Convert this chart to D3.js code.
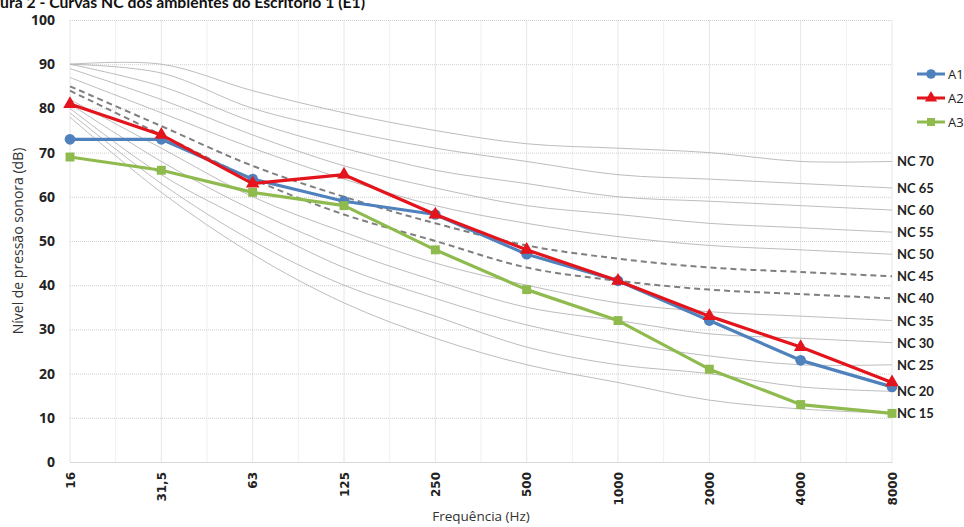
<!DOCTYPE html>
<html>
<head>
<meta charset="utf-8">
<script src="https://cdn.jsdelivr.net/npm/d3@7"></script>
<style>
  body { margin: 0; background: #fff; }
  svg { display: block; }
</style>
</head>
<body>
<div id="chart"></div>
<script>
// Data
var freqs = ["16", "31,5", "63", "125", "250", "500", "1000", "2000", "4000", "8000"];
var a1 = [73, 73, 64, 59, 56, 47, 41, 32, 23, 17];
var a2 = [81, 74, 63, 65, 56, 48, 41, 33, 26, 18];
var a3 = [69, 66, 61, 58, 48, 39, 32, 21, 13, 11];

// NC reference curves (16 Hz .. 8000 Hz)
var ncNames = ["NC 70", "NC 65", "NC 60", "NC 55", "NC 50", "NC 45", "NC 40", "NC 35", "NC 30", "NC 25", "NC 20", "NC 15"];
var nc70 = [90, 90, 84, 79, 75, 72, 71, 70, 68, 68];
var nc65 = [90, 88, 80, 75, 71, 68, 65, 64, 63, 62];
var nc60 = [90, 85, 77, 71, 66, 63, 60, 59, 58, 57];
var nc55 = [89, 82, 74, 67, 62, 58, 56, 54, 53, 52];
var nc50 = [87, 79, 71, 64, 58, 54, 51, 49, 48, 47];
var nc45 = [85, 76, 67, 60, 54, 49, 46, 44, 43, 42];
var nc40 = [84, 74, 64, 56, 50, 44, 41, 39, 38, 37];
var nc35 = [82, 71, 60, 52, 45, 40, 36, 34, 33, 32];
var nc30 = [81, 68, 57, 48, 41, 35, 32, 29, 28, 27];
var nc25 = [80, 65, 54, 44, 37, 31, 27, 24, 22, 22];
var nc20 = [79, 63, 50, 40, 33, 26, 22, 20, 17, 16];
var nc15 = [78, 61, 47, 36, 28, 22, 18, 14, 12, 11];
var yTicks = [0, 10, 20, 30, 40, 50, 60, 70, 80, 90, 100];

var width = 964, height = 527;
var plotLeft = 70, plotRight = 892, plotTop = 20, plotBottom = 462;

var svg = d3.select("#chart").append("svg")
  .attr("width", width)
  .attr("height", height);

// scales
var x = d3.scalePoint().domain(freqs).range([plotLeft, plotRight]);
var y = d3.scaleLinear().domain([0, 100]).range([plotBottom, plotTop]);
var step = x.step();

// title, cut off at the top-left like in the source image ("Fig" falls off the page)
var titleFont = "Lato, sans-serif";
var title = svg.append("text")
  .attr("y", 8)
  .style("font-family", titleFont)
  .style("font-weight", "bold")
  .style("font-size", "16px")
  .attr("fill", "#111")
  .text("Figura 2 - Curvas NC dos ambientes do Escritório 1 (E1)");
var fullW = title.node().getComputedTextLength();
var probe = svg.append("text")
  .style("font-family", titleFont)
  .style("font-weight", "bold")
  .style("font-size", "16px")
  .text("Fig");
var figW = probe.node().getComputedTextLength();
probe.remove();
var fs = 16 * 365 / (fullW - figW);
title.style("font-size", fs + "px").attr("x", -figW * fs / 16);

// vertical gridlines (categories + halfway)
var vg = svg.append("g");
freqs.forEach(function (f, i) {
  vg.append("line")
    .attr("x1", x(f)).attr("x2", x(f))
    .attr("y1", plotTop).attr("y2", plotBottom)
    .attr("stroke", "#e6e6e6").attr("stroke-width", 1);
  if (i < freqs.length - 1) {
    vg.append("line")
      .attr("x1", x(f) + step / 2).attr("x2", x(f) + step / 2)
      .attr("y1", plotTop).attr("y2", plotBottom)
      .attr("stroke", "#f0f0f0").attr("stroke-width", 1);
  }
});

// horizontal gridlines
svg.append("g")
  .attr("transform", "translate(" + plotLeft + ",0)")
  .call(d3.axisLeft(y).tickValues(yTicks).tickSize(-(plotRight - plotLeft)).tickFormat(""))
  .call(function (g) {
    g.select(".domain").remove();
    g.selectAll("line").attr("stroke", "#d0d0d0").attr("stroke-dasharray", "1,1");
  });

// y tick labels
svg.append("g")
  .attr("transform", "translate(" + (plotLeft - 12) + ",0)")
  .call(d3.axisLeft(y).tickValues(yTicks).tickSize(0))
  .call(function (g) {
    g.select(".domain").remove();
    g.selectAll("text")
      .attr("fill", "#222")
      .style("font-family", "'Open Sans', sans-serif")
      .style("font-weight", "bold")
      .style("font-size", "14px");
  });

// x axis
svg.append("g")
  .attr("transform", "translate(0," + plotBottom + ")")
  .call(d3.axisBottom(x).tickSize(0))
  .call(function (g) {
    g.select(".domain").attr("stroke", "#d9d9d9");
    g.selectAll("text")
      .attr("transform", "rotate(-90)")
      .attr("text-anchor", "end")
      .attr("x", -10).attr("y", 0).attr("dy", "0.35em")
      .attr("fill", "#222")
      .style("font-family", "'DejaVu Sans', sans-serif")
      .style("font-weight", "bold")
      .style("font-size", "12px");
  });

// axis titles
svg.append("text")
  .attr("x", (plotLeft + plotRight) / 2).attr("y", 521)
  .attr("text-anchor", "middle")
  .style("font-family", "'Open Sans', sans-serif")
  .style("font-size", "13.5px")
  .attr("fill", "#333")
  .text("Frequência (Hz)");

svg.append("text")
  .attr("transform", "translate(23," + ((plotTop + plotBottom) / 2) + ") rotate(-90)")
  .attr("text-anchor", "middle")
  .style("font-family", "'Open Sans', sans-serif")
  .style("font-size", "14px")
  .attr("fill", "#333")
  .text("Nível de pressão sonora (dB)");

// NC curves
var ncCurves = [nc70, nc65, nc60, nc55, nc50, nc45, nc40, nc35, nc30, nc25, nc20, nc15];
var smooth = d3.line()
  .x(function (d, i) { return x(freqs[i]); })
  .y(function (d) { return y(d); })
  .curve(d3.curveCatmullRom.alpha(0.5));

ncCurves.forEach(function (c, k) {
  var dashed = ncNames[k] === "NC 45" || ncNames[k] === "NC 40";
  svg.append("path")
    .attr("d", smooth(c))
    .attr("fill", "none")
    .attr("stroke", dashed ? "#7f7f7f" : "#b4b4b4")
    .attr("stroke-width", dashed ? 2 : 0.9)
    .attr("stroke-dasharray", dashed ? "6,4" : null);
  svg.append("text")
    .attr("x", plotRight + 5)
    .attr("y", y(c[c.length - 1]))
    .attr("dy", "0.38em")
    .style("font-family", "Lato, sans-serif")
    .style("font-weight", "bold")
    .style("font-size", "13px")
    .attr("fill", "#222")
    .text(ncNames[k]);
});

// measured series
var series = [
  { name: "A1", values: a1, color: "#4f81bd", shape: d3.symbolCircle, size: 90 },
  { name: "A2", values: a2, color: "#e3141b", shape: d3.symbolTriangle, size: 80 },
  { name: "A3", values: a3, color: "#8fbb4e", shape: d3.symbolSquare, size: 80 }
];

var straight = d3.line()
  .x(function (d, i) { return x(freqs[i]); })
  .y(function (d) { return y(d); });

series.forEach(function (s) {
  svg.append("path")
    .attr("d", straight(s.values))
    .attr("fill", "none")
    .attr("stroke", s.color)
    .attr("stroke-width", 3.2)
    .attr("stroke-linejoin", "round");
  svg.append("g").selectAll("path")
    .data(s.values)
    .join("path")
    .attr("transform", function (d, i) { return "translate(" + x(freqs[i]) + "," + y(d) + ")"; })
    .attr("d", d3.symbol().type(s.shape).size(s.size))
    .attr("fill", s.color);
});

// legend
var legend = svg.append("g");
series.forEach(function (s, i) {
  var ly = 74 + i * 24;
  legend.append("line")
    .attr("x1", 917).attr("x2", 945)
    .attr("y1", ly).attr("y2", ly)
    .attr("stroke", s.color).attr("stroke-width", 3);
  legend.append("path")
    .attr("transform", "translate(931," + ly + ")")
    .attr("d", d3.symbol().type(s.shape).size(s.size * 0.8))
    .attr("fill", s.color);
  legend.append("text")
    .attr("x", 948).attr("y", ly)
    .attr("dy", "0.36em")
    .style("font-family", "'Open Sans', sans-serif")
    .style("font-size", "13px")
    .attr("fill", "#222")
    .text(s.name);
});
</script>
</body>
</html>
